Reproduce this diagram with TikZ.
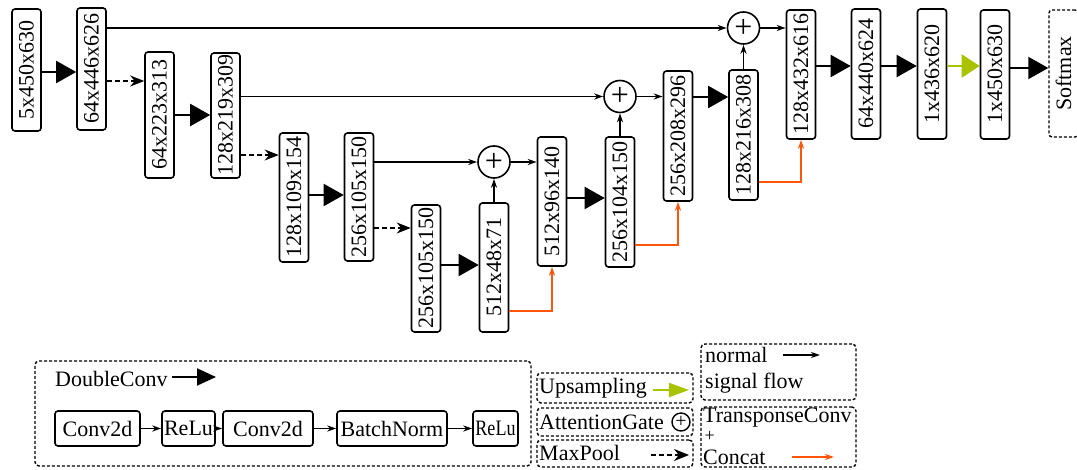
\documentclass[tikz,border=0pt]{standalone}
\usepackage{fontspec}
\setmainfont{Liberation Serif}
\usepackage{graphicx}
\usetikzlibrary{arrows.meta,calc}
\definecolor{orng}{RGB}{255,85,10}
\definecolor{grn}{RGB}{170,195,0}
\tikzset{
  blk/.style={draw, line width=1.6pt, rounded corners=3pt, minimum width=29pt, minimum height=#1, inner sep=0pt},
  ag/.style={draw, circle, line width=1.6pt, minimum size=32pt, inner sep=0pt, font=\fontsize{32}{32}\selectfont},
  dc/.style={line width=2pt, -{Triangle[length=20pt,width=22pt]}},
  mp/.style={line width=1.8pt, dash pattern=on 5pt off 3pt, -{Stealth[length=14pt,width=11pt]}},
  sk/.style={line width=1.7pt, -{Stealth[length=9pt,width=6pt]}},
  tc/.style={line width=1.7pt, draw=orng, -{Stealth[length=9pt,width=6pt]}},
  up/.style={line width=2pt, draw=grn, -{Triangle[length=18pt,width=23pt]}},
  upl/.style={line width=2pt, draw=grn, -{Triangle[length=20pt,width=14pt]}},
  lgb/.style={draw, line width=1.4pt, dash pattern=on 3pt off 2pt, rounded corners=4pt, inner sep=0pt},
  sb/.style={draw, line width=1.6pt, rounded corners=3pt, minimum height=35pt, inner sep=1pt},
  lt/.style={anchor=west, inner sep=1pt},
}
\begin{document}
\begin{tikzpicture}[x=1pt, y=-1pt, font=\fontsize{22}{26}\selectfont]
\useasboundingbox (0,0) rectangle (1077,470);
% encoder / decoder blocks
\node[blk=122pt] (b1) at (26.5,70) {\rotatebox{90}{5x450x630}};
\node[blk=122pt] (b2) at (91.5,69) {\rotatebox{90}{64x446x626}};
\node[blk=126pt] (b3) at (159.5,115) {\rotatebox{90}{64x223x313}};
\node[blk=125pt] (b4) at (225.5,115.5) {\rotatebox{90}{128x219x309}};
\node[blk=129pt] (b5) at (294,197.5) {\rotatebox{90}{128x109x154}};
\node[blk=128pt] (b6) at (359,197) {\rotatebox{90}{256x105x150}};
\node[blk=127pt] (b7) at (426,268.5) {\rotatebox{90}{256x105x150}};
\node[blk=129pt] (b8) at (494,267.5) {\rotatebox{90}{512x48x71}};
\node[blk=129pt] (b9) at (552,201.5) {\rotatebox{90}{512x96x140}};
\node[blk=130pt] (b10) at (620,202) {\rotatebox{90}{256x104x150}};
\node[blk=130pt] (b11) at (678,136) {\rotatebox{90}{256x208x296}};
\node[blk=130pt] (b12) at (743.5,135) {\rotatebox{90}{128x216x308}};
\node[blk=129pt] (b13) at (801,74.5) {\rotatebox{90}{128x432x616}};
\node[blk=130pt] (b14) at (866,74) {\rotatebox{90}{64x440x624}};
\node[blk=130pt] (b15) at (932,74) {\rotatebox{90}{1x436x620}};
\node[blk=129pt] (b16) at (995,74.5) {\rotatebox{90}{1x450x630}};
\node[blk=127pt, line width=1.4pt, dash pattern=on 3pt off 2pt] (sm) at (1063.5,73.5) {\rotatebox{90}{Softmax}};
% attention gates
\node[ag] (c1) at (743.5,28) {+};
\node[ag] (c2) at (620,96.5) {+};
\node[ag] (c3) at (494,162) {+};
% double conv
\draw[dc] (b1.east |- 0,72) -- (b2.west |- 0,72);
\draw[dc] (b3.east |- 0,115) -- (b4.west |- 0,115);
\draw[dc] (b5.east |- 0,195) -- (b6.west |- 0,195);
\draw[dc] (b7.east |- 0,265) -- (b8.west |- 0,265);
\draw[dc] (b9.east |- 0,198) -- (b10.west |- 0,198);
\draw[dc] (b11.east |- 0,97) -- (b12.west |- 0,97);
\draw[dc] (b13.east |- 0,66) -- (b14.west |- 0,66);
\draw[dc] (b14.east |- 0,66) -- (b15.west |- 0,66);
\draw[up] (b15.east |- 0,66) -- (b16.west |- 0,66);
\draw[dc] (b16.east |- 0,68) -- (sm.west |- 0,68);
% max pool
\draw[mp] (b2.east |- 0,81) -- (b3.west |- 0,81);
\draw[mp] (b4.east |- 0,155) -- (b5.west |- 0,155);
\draw[mp] (b6.east |- 0,228) -- (b7.west |- 0,228);
% skip connections
\draw[sk] (b2.east |- c1) -- (c1.west);
\draw[sk] (c1.east) -- (b13.west |- c1);
\draw[sk] (b12.north) -- (c1.south);
\draw[sk] (b4.east |- c2) -- (c2.west);
\draw[sk] (c2.east) -- (b11.west |- c2);
\draw[sk] (b10.north) -- (c2.south);
\draw[sk] (b6.east |- c3) -- (c3.west);
\draw[sk] (c3.east) -- (b9.west |- c3);
\draw[sk] (b8.north) -- (c3.south);
% transpose conv + concat
\draw[tc] (b8.east |- 0,311) -| (b9.south);
\draw[tc] (b10.east |- 0,245) -| (b11.south);
\draw[tc] (b12.east |- 0,182) -| (b13.south);
% legend: double conv
\node[lgb, minimum width=496pt, minimum height=105pt] (ldc) at (283,413.5) {};
\node[lt] (tdc) at (54,379) {DoubleConv};
\coordinate (edc) at (216,377);
\draw[line width=2pt, -{Triangle[length=19pt,width=17pt]}] ([xshift=3pt]tdc.east |- edc) -- (edc);
\node[sb, minimum width=85pt] (s1) at (97.5,428.5) {Conv2d};
\node[sb, minimum width=53pt] (s2) at (188.5,428.5) {ReLu};
\node[sb, minimum width=90pt] (s3) at (268,428.5) {Conv2d};
\node[sb, minimum width=110pt] (s4) at (392,428.5) {BatchNorm};
\node[sb, minimum width=45pt] (s5) at (495.5,428.5) {\scalebox{0.82}[1]{ReLu}};
\draw[sk] (s1.east) -- (s2.west);
\draw[sk] (s2.east) -- (s3.west);
\draw[sk] (s3.east) -- (s4.west);
\draw[sk] (s4.east) -- (s5.west);
% legend: small items
\node[lgb, minimum width=156pt, minimum height=30pt] (lup) at (615,388) {};
\node[lt] (tup) at (538,388) {Upsampling};
\coordinate (eup) at (689,390);
\draw[upl] ([xshift=5pt]tup.east |- eup) -- (eup);
\node[lgb, minimum width=156pt, minimum height=28pt] (lag) at (615,422) {};
\node[lt] (tag) at (538,422) {AttentionGate};
\node[draw, circle, line width=1.4pt, minimum size=18pt, inner sep=0pt, font=\fontsize{20}{20}\selectfont] (cag) at (681,422) {+};
\node[lgb, minimum width=156pt, minimum height=27pt] (lmp) at (615,453.5) {};
\node[lt] (tmp) at (538,453) {MaxPool};
\coordinate (emp) at (689,455);
\draw[mp, line width=1.5pt, -{Stealth[length=15pt,width=12pt]}] ([xshift=30pt]tmp.east |- emp) -- (emp);
\node[lgb, minimum width=155pt, minimum height=56pt] (lnf) at (778.5,372) {};
\node[lt] (tn) at (704,355) {normal};
\coordinate (en) at (820,355);
\draw[sk] ([xshift=14pt]tn.east |- en) -- (en);
\node[lt] (tsf) at (704,383) {signal flow};
\node[lgb, minimum width=155pt, minimum height=60pt] (ltc) at (778.5,437) {};
\node[lt, inner sep=0pt] (ttc) at (703,418) {TransponseConv};
\node[lt, inner sep=0pt, font=\fontsize{18}{18}\selectfont] (tpl) at (704.5,436) {+};
\node[lt, inner sep=0pt] (tcc) at (703,457) {Concat};
\coordinate (etc) at (834,457);
\draw[tc] ([xshift=26pt]tcc.east |- etc) -- (etc);
\end{tikzpicture}
\end{document}
